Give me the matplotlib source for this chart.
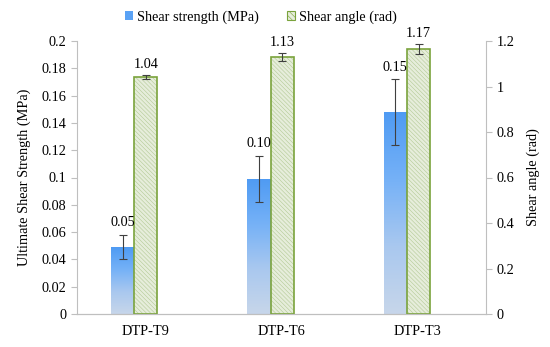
import numpy as np
import matplotlib.pyplot as plt
from matplotlib.colors import LinearSegmentedColormap
from matplotlib.patches import Rectangle

plt.rcParams['font.family'] = ['Liberation Serif', 'DejaVu Serif']
plt.rcParams['hatch.linewidth'] = 0.4

samples = ['DTP-T9', 'DTP-T6', 'DTP-T3']
strength = [0.049, 0.099, 0.148]
strength_err = [0.009, 0.017, 0.024]
strength_lbl = ['0.05', '0.10', '0.15']
angle = [1.043, 1.131, 1.166]
angle_err = [0.008, 0.018, 0.023]
angle_lbl = ['1.04', '1.13', '1.17']

fs = 10.3
fig = plt.figure(figsize=(5.5, 3.47), dpi=100)
ax = fig.add_axes([77/550, 1-314/347, 409/550, 273/347])
ax2 = ax.twinx()

x = np.arange(len(samples))
w = 0.17
xb = x - 0.165
xg = x + 0.005

# gradient blue bars
cmap = LinearSegmentedColormap.from_list('blu', ['#c7d6ea', '#a9c8ef', '#75b1f7', '#4f9bf3'])
grad = np.linspace(0, 1, 200).reshape(-1, 1)
bars = ax.bar(xb, strength, w, color='none', zorder=2)
for b, v in zip(bars, strength):
    im = ax.imshow(grad, extent=[b.get_x(), b.get_x() + w, 0, v], origin='lower',
                   cmap=cmap, aspect='auto', zorder=2)
    im.set_clip_path(b)
ax.errorbar(xb, strength, yerr=strength_err, fmt='none', ecolor='#404040',
            elinewidth=0.8, capsize=3, capthick=0.8, zorder=3)

# hatched green bars
ax2.bar(xg, angle, w, color='#e6eddb', hatch='\\\\\\\\\\\\\\\\', edgecolor='#b3c995', linewidth=0, zorder=2)
ax2.bar(xg, angle, w, color='none', edgecolor='#7aa33c', linewidth=1.2, zorder=2)
ax2.errorbar(xg, angle, yerr=angle_err, fmt='none', ecolor='#404040',
             elinewidth=0.8, capsize=3, capthick=0.8, zorder=3)
for xi, v, e, t in zip(xg, angle, angle_err, angle_lbl):
    ax2.text(xi, v + e + 0.015, t, ha='center', va='bottom', fontsize=fs)
# blue labels drawn on the top axes so the green bars do not hide them
for xi, v, e, t in zip(xb, strength, strength_err, strength_lbl):
    ax2.text(xi, (v + e + 0.004) * 6, t, ha='center', va='bottom', fontsize=fs, zorder=5)

ax.set_xlim(-0.5, 2.5)
ax.set_ylim(0, 0.2)
ax2.set_ylim(0, 1.2)
ax.set_yticks(np.arange(0, 0.201, 0.02))
ax.set_yticklabels(['0', '0.02', '0.04', '0.06', '0.08', '0.1', '0.12', '0.14', '0.16', '0.18', '0.2'])
ax2.set_yticks(np.arange(0, 1.21, 0.2))
ax2.set_yticklabels(['0', '0.2', '0.4', '0.6', '0.8', '1', '1.2'])
ax.set_xticks(x)
ax.set_xticklabels(samples)

for a in (ax, ax2):
    a.spines['top'].set_visible(False)
    for s in ('left', 'right', 'bottom'):
        a.spines[s].set_color('#bfbfbf')
    a.tick_params(axis='both', colors='#bfbfbf', labelcolor='black', labelsize=fs, length=4, width=0.8)
ax.tick_params(axis='x', length=0, pad=8)
ax2.spines['left'].set_visible(False)
ax.spines['right'].set_visible(False)

ax.set_ylabel('Ultimate Shear Strength (MPa)', fontsize=fs, labelpad=8)
ax2.set_ylabel('Shear angle (rad)', fontsize=fs, labelpad=9)

# legend
h1 = Rectangle((0, 0), 1, 1, facecolor='#5aa2f5', edgecolor='none')
h2 = Rectangle((0, 0), 1, 1, facecolor='#e6eddb', hatch='\\\\\\\\\\\\', edgecolor='#7aa33c', linewidth=0.8)
fig.legend([h1, h2], ['Shear strength (MPa)', 'Shear angle (rad)'], loc='center',
           bbox_to_anchor=(261/550, 1-17/347), ncol=2, frameon=False, fontsize=fs,
           handlelength=0.55, handleheight=0.55, handletextpad=0.3, columnspacing=2.0)

fig.savefig('out.png', dpi=100)
